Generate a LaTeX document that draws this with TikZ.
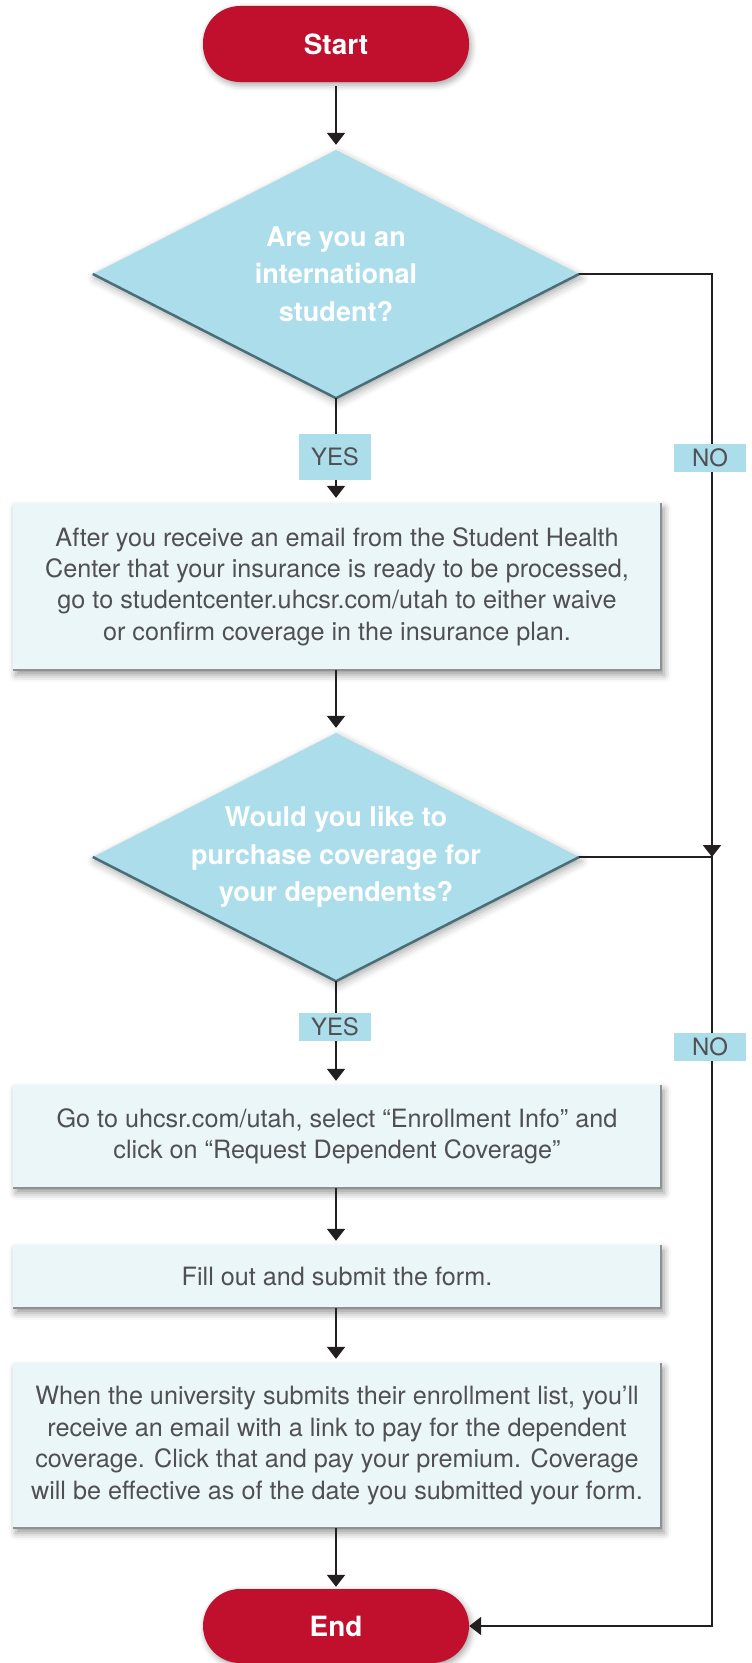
\documentclass[tikz,border=0pt]{standalone}
\usepackage{fontspec}
\setmainfont{TeX Gyre Heros}
\usetikzlibrary{shapes.geometric,arrows.meta,shadows.blur}
\definecolor{ured}{HTML}{C1102E}
\definecolor{dblue}{HTML}{ABDDEB}
\definecolor{dedge}{HTML}{4A6E78}
\definecolor{boxfill}{HTML}{EBF6F9}
\definecolor{boxedge}{HTML}{8E9194}
\definecolor{tgray}{HTML}{505052}
\definecolor{lcol}{HTML}{231F20}
\begin{document}
\begin{tikzpicture}[x=1bp,y=-1bp,
  term/.style={rectangle, rounded corners=37bp, fill=ured, minimum width=266bp,
    minimum height=76bp, inner sep=0, text=white,
    font=\fontsize{28}{32}\selectfont\bfseries,
    blur shadow={shadow xshift=2bp, shadow yshift=-3bp, shadow blur radius=6bp, shadow opacity=35}},
  dia/.style={diamond, fill=dblue, minimum width=486bp, minimum height=248bp,
    inner sep=0, aspect=1.96,
    blur shadow={shadow xshift=2bp, shadow yshift=-4bp, shadow blur radius=8bp, shadow opacity=35}},
  diatext/.style={text=white, font=\fontsize{27.2}{37.8}\selectfont\bfseries,
    align=center, inner sep=0},
  stepbox/.style={rectangle, fill=boxfill, minimum width=648bp, inner sep=0,
    align=center, text=tgray, font=\fontsize{25.3}{31.5}\selectfont,
    blur shadow={shadow xshift=3bp, shadow yshift=-5bp, shadow blur radius=7bp, shadow opacity=40}},
  boxrim/.style={draw=boxedge, line width=2bp},
  diarim/.style={draw=dedge, line width=2.5bp, line join=miter},
  lbl/.style={rectangle, fill=dblue, inner sep=0, minimum width=72bp,
    minimum height=28bp, text=tgray, font=\fontsize{24}{28}\selectfont},
  conn/.style={draw=lcol, line width=2.2bp},
  arr/.style={conn, -{Triangle[width=18bp,length=12bp]}},
]
\useasboundingbox (0,0) rectangle (752,1663);

% nodes
\node[term] (start) at (336,44) {Start};
\node[dia] (d1) at (336,274) {};
\draw[diarim] (d1.west) -- (d1.south) -- (d1.east);
\node[diatext] (d1t) at (336,274) {Are you an\\international\\student?};

\node[stepbox, minimum height=167bp] (b1) at (337,586.5)
  {After you receive an email from the Student Health\\
   Center that your insurance is ready to be processed,\\
   go to studentcenter.uhcsr.com/utah to either waive\\
   or confirm coverage in the insurance plan.};
\draw[boxrim] (b1.north east) -- (b1.south east) -- (b1.south west);

\node[dia] (d2) at (336,857) {};
\draw[diarim] (d2.west) -- (d2.south) -- (d2.east);
\node[diatext] (d2t) at (336,857) {Would you like to\\purchase coverage for\\your dependents?};

\node[stepbox, minimum height=103bp] (b2) at (337,1136.5)
  {Go to uhcsr.com/utah, select “Enrollment Info” and\\
   click on “Request Dependent Coverage”};
\draw[boxrim] (b2.north east) -- (b2.south east) -- (b2.south west);

\node[stepbox, minimum height=63bp] (b3) at (337,1276.5)
  {Fill out and submit the form.};
\draw[boxrim] (b3.north east) -- (b3.south east) -- (b3.south west);

\node[stepbox, minimum height=165bp] (b4) at (337,1445.5)
  {When the university submits their enrollment list, you’ll\\
   receive an email with a link to pay for the dependent\\
   coverage. Click that and pay your premium. Coverage\\
   will be effective as of the date you submitted your form.};
\draw[boxrim] (b4.north east) -- (b4.south east) -- (b4.south west);

\node[term, minimum height=74bp] (end) at (336,1626) {End};

\coordinate (c1) at (712,274);
\coordinate (j) at (712,857);
\coordinate (c3) at (712,1626);

% connectors
\draw[arr, shorten <=4bp, shorten >=5bp] (start.south) -- (d1.north);
\draw[arr, shorten >=5bp] (d1.south) -- (d1.south |- b1.north);
\draw[arr, shorten >=5bp] (d1.south |- b1.south) -- (d2.north);
\draw[arr, shorten >=4bp] (d2.south) -- (d2.south |- b2.north);
\draw[arr, shorten >=4bp] (d2.south |- b2.south) -- (d2.south |- b3.north);
\draw[arr, shorten >=4bp] (d2.south |- b3.south) -- (d2.south |- b4.north);
\draw[arr, shorten >=2bp] (d2.south |- b4.south) -- (end.north);
\draw[arr] (d1.east) -- (c1) -- (j);
\draw[arr] (d2.east) -- (j) -- (c3) -- (end.east);

% labels on the lines
\node[lbl, minimum height=46bp] (yes1) at (335,457) {YES};
\node[lbl] (no1) at (710,458) {NO};
\node[lbl] (yes2) at (335,1027) {YES};
\node[lbl] (no2) at (710,1047) {NO};
\end{tikzpicture}
\end{document}
